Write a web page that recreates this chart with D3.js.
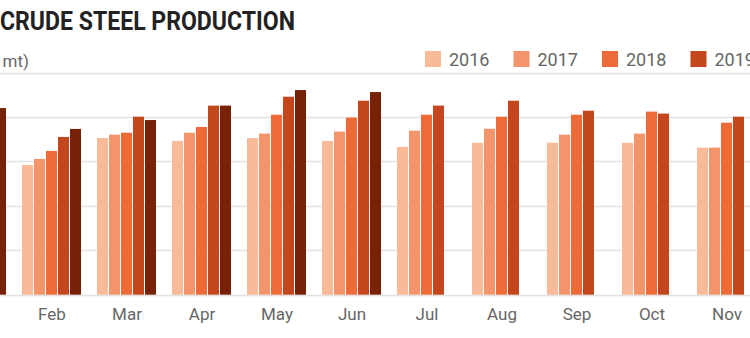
<!DOCTYPE html>
<html><head><meta charset="utf-8">
<script src="https://cdn.jsdelivr.net/npm/d3@7"></script>
<style>html,body{margin:0;padding:0;background:#fff;overflow:hidden}</style>
</head><body>
<svg id="chart" width="750" height="338"></svg>
<script>
const months = ["Jan","Feb","Mar","Apr","May","Jun","Jul","Aug","Sep","Oct","Nov","Dec"];
const years = ["2016","2017","2018","2019","2020"];
const v2016 = [59.0, 58.4, 70.5, 69.2, 70.5, 69.2, 66.5, 68.4, 68.4, 68.4, 66.2, 67.2];
const v2017 = [62.0, 61.1, 72.0, 72.9, 72.5, 73.4, 73.8, 74.7, 72.0, 72.5, 66.2, 66.4];
const v2018 = [66.0, 64.7, 72.9, 75.5, 81.0, 79.7, 81.0, 80.1, 81.0, 82.4, 77.4, 77.6];
const v2019 = [73.0, 71.0, 80.1, 85.1, 89.1, 87.3, 85.1, 87.3, 82.8, 81.5, 80.1, 82.8];
const v2020 = [84.0, 74.6, 78.6, 85.1, 92.1, 91.2, null, null, null, null, null, null];
const yTicks = [0, 20, 40, 60, 80, 100];
const title = "CRUDE STEEL PRODUCTION";
const subtitle = "(million mt)";
const colors = ["#F8BA98", "#F4946A", "#EE6A36", "#C4461C", "#772206"];

const series = [v2016, v2017, v2018, v2019, v2020];
const svg = d3.select("#chart");

const y = d3.scaleLinear().domain([0, 100]).range([294.7, 72.5]);
const x0 = d3.scaleBand().domain(months).range([-60.5, 839.5]).paddingInner(0.2).paddingOuter(0.1);
const x1 = d3.scaleBand().domain(years).range([0, x0.bandwidth()]);

// gridlines
svg.append("g").selectAll("line").data(yTicks).join("line")
  .attr("x1", 0).attr("x2", 750)
  .attr("y1", d => Math.round(y(d)) + 0.5).attr("y2", d => Math.round(y(d)) + 0.5)
  .attr("stroke", "#e2e2e2").attr("stroke-width", 1.5);

// bars
const groups = svg.append("g").selectAll("g").data(months).join("g")
  .attr("transform", d => `translate(${x0(d)},0)`);
groups.selectAll("rect")
  .data((m, i) => years.map((yr, j) => ({yr, v: series[j][i], c: colors[j]})).filter(d => d.v != null))
  .join("rect")
  .attr("x", d => x1(d.yr))
  .attr("width", x1.bandwidth() - 1)
  .attr("y", d => y(d.v))
  .attr("height", d => y(0) - y(d.v))
  .attr("fill", d => d.c);

// month axis labels
const xAxis = d3.axisBottom(x0).tickSize(0).tickPadding(0);
const ax = svg.append("g").attr("transform", "translate(0,308)").call(xAxis);
ax.select(".domain").remove();
ax.selectAll("text").attr("font-family", "Roboto, sans-serif").attr("font-size", 17)
  .attr("fill", "#666").attr("dy", "0.71em");

// title
svg.append("text").attr("x", 0).attr("y", 30).text(title)
  .attr("font-family", "Roboto, sans-serif").attr("font-weight", 700)
  .attr("font-size", 25).attr("fill", "#222")
  .attr("textLength", 295).attr("lengthAdjust", "spacingAndGlyphs");

svg.append("text").attr("x", 29).attr("y", 67).attr("text-anchor", "end").text(subtitle)
  .attr("font-family", "Roboto, sans-serif").attr("font-size", 17).attr("fill", "#666");

// legend
const leg = svg.append("g").selectAll("g").data(years).join("g")
  .attr("transform", (d, i) => `translate(${425 + i * 88.5},51)`);
leg.append("rect").attr("width", 16).attr("height", 16).attr("fill", (d, i) => colors[i]);
leg.append("text").attr("x", 24).attr("y", 15).text(d => d)
  .attr("font-family", "Roboto, sans-serif").attr("font-size", 18).attr("fill", "#666");
</script>
</body></html>
